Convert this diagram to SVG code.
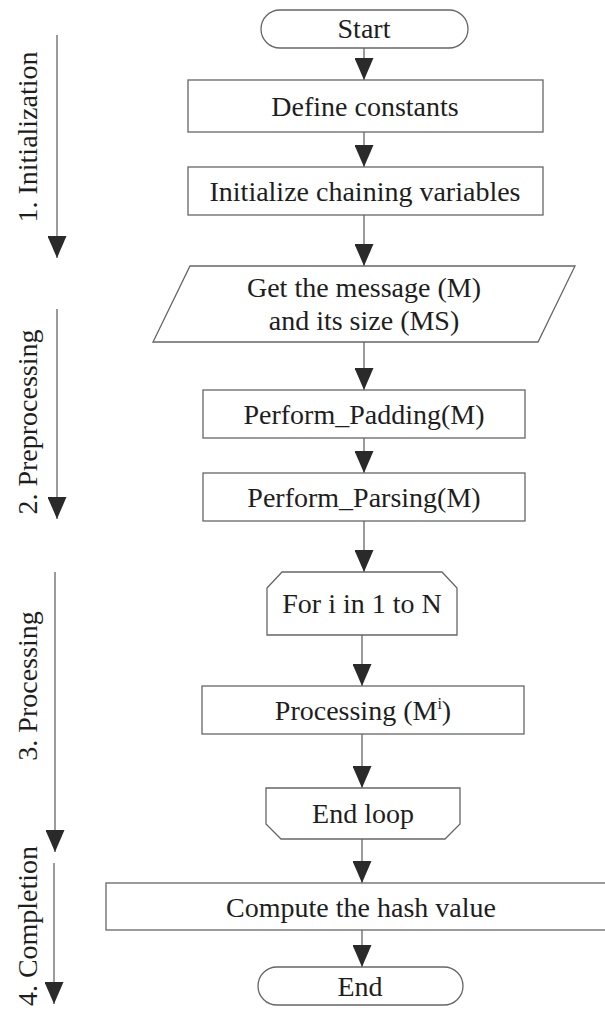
<svg xmlns="http://www.w3.org/2000/svg" width="605" height="1011" viewBox="0 0 605 1011">
<style>
.box{fill:#fff;stroke:#666;stroke-width:1.3}
.t{font-family:"Liberation Serif","Times New Roman",serif;font-size:28px;fill:#1e1e1e;text-anchor:middle}
.c{stroke:#666;stroke-width:1.3;fill:none}
</style>
<defs>
<marker id="ah" viewBox="0 0 22 19" refX="22" refY="9.5" markerWidth="22" markerHeight="19" markerUnits="userSpaceOnUse" orient="auto">
<path d="M0,0 L22,9.5 L0,19 z" fill="#2a2a2a"/>
</marker>
</defs>
<rect width="605" height="1011" fill="#fff"/>
<g id="connectors">
<line class="c" x1="364" y1="48" x2="364" y2="80" marker-end="url(#ah)"/>
<line class="c" x1="364" y1="132" x2="364" y2="167" marker-end="url(#ah)"/>
<line class="c" x1="364" y1="215" x2="364" y2="266" marker-end="url(#ah)"/>
<line class="c" x1="364" y1="342" x2="364" y2="390" marker-end="url(#ah)"/>
<line class="c" x1="364" y1="438" x2="364" y2="473" marker-end="url(#ah)"/>
<line class="c" x1="364" y1="521" x2="364" y2="572" marker-end="url(#ah)"/>
<line class="c" x1="362" y1="635" x2="362" y2="686" marker-end="url(#ah)"/>
<line class="c" x1="362" y1="734" x2="362" y2="788" marker-end="url(#ah)"/>
<line class="c" x1="362" y1="839" x2="362" y2="883" marker-end="url(#ah)"/>
<line class="c" x1="362" y1="930" x2="362" y2="967" marker-end="url(#ah)"/>
</g>
<g id="phase1">
<line class="c" x1="57" y1="35" x2="57" y2="258" marker-end="url(#ah)"/>
<text class="t" transform="translate(37,137) rotate(-90)">1. Initialization</text>
</g>
<g id="phase2">
<line class="c" x1="57" y1="309" x2="57" y2="519" marker-end="url(#ah)"/>
<text class="t" transform="translate(37,422) rotate(-90)">2. Preprocessing</text>
</g>
<g id="phase3">
<line class="c" x1="55" y1="572" x2="55" y2="852" marker-end="url(#ah)"/>
<text class="t" transform="translate(37,686) rotate(-90)">3. Processing</text>
</g>
<g id="phase4">
<line class="c" x1="54" y1="863" x2="54" y2="1004" marker-end="url(#ah)"/>
<text class="t" transform="translate(37,926) rotate(-90)">4. Completion</text>
</g>
<g id="start">
<rect class="box" x="261" y="10" width="207" height="38" rx="19"/>
<text class="t" x="364" y="38">Start</text>
</g>
<g id="define">
<rect class="box" x="188" y="80" width="355" height="52"/>
<text class="t" x="365" y="116">Define constants</text>
</g>
<g id="init">
<rect class="box" x="188" y="167" width="355" height="48"/>
<text class="t" x="365" y="201">Initialize chaining variables</text>
</g>
<g id="getmsg">
<polygon class="box" points="190,266 575,266 538,342 153,342"/>
<text class="t" x="364" y="297">Get the message (M)</text>
<text class="t" x="364" y="330">and its size (MS)</text>
</g>
<g id="padding">
<rect class="box" x="203" y="390" width="322" height="48"/>
<text class="t" x="364" y="424">Perform_Padding(M)</text>
</g>
<g id="parsing">
<rect class="box" x="203" y="473" width="322" height="48"/>
<text class="t" x="364" y="507">Perform_Parsing(M)</text>
</g>
<g id="forloop">
<polygon class="box" points="282,572 442,572 457,588 457,635 267,635 267,588"/>
<text class="t" x="362" y="613">For i in 1 to N</text>
</g>
<g id="processing">
<rect class="box" x="202" y="686" width="322" height="48"/>
<text class="t" x="363" y="720">Processing (M<tspan font-size="16" dy="-11">i</tspan><tspan dy="11">)</tspan></text>
</g>
<g id="endloop">
<polygon class="box" points="266,788 460,788 460,824 445,839 281,839 266,824"/>
<text class="t" x="363" y="823">End loop</text>
</g>
<g id="compute">
<rect class="box" x="106" y="883" width="510" height="47"/>
<text class="t" x="361" y="917">Compute the hash value</text>
</g>
<g id="end">
<rect class="box" x="258" y="967" width="205" height="38" rx="19"/>
<text class="t" x="360" y="996">End</text>
</g>
</svg>
